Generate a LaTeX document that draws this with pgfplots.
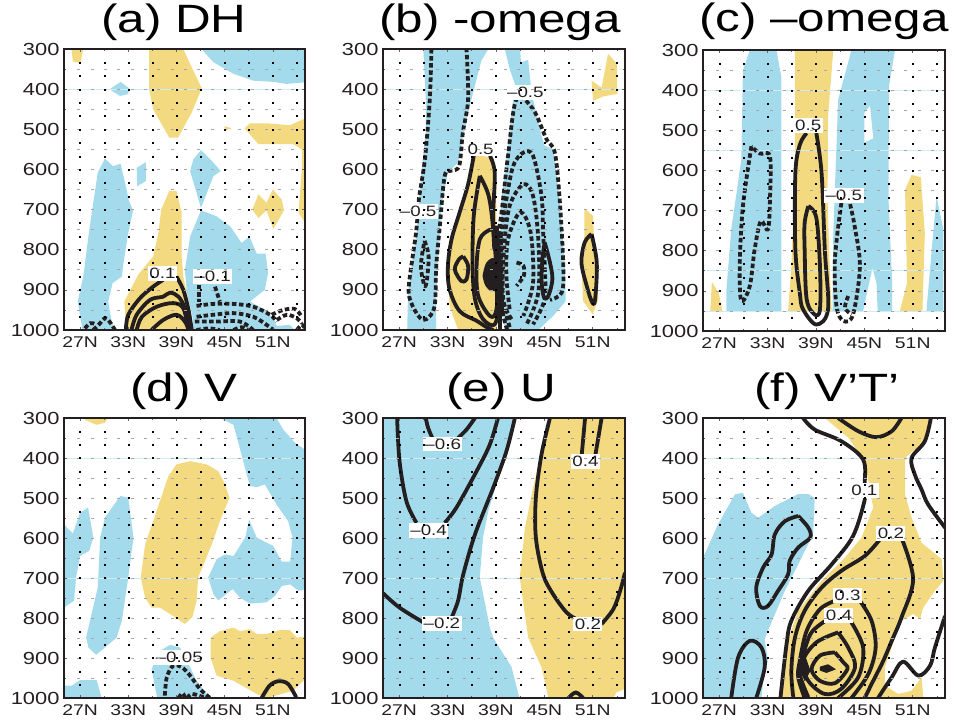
\documentclass[border=0pt]{standalone}
\usepackage{pgfplots}
\pgfplotsset{compat=1.18}
\usepackage{fontspec}
\setmainfont[FakeStretch=1.25]{Liberation Sans}
\definecolor{blu}{HTML}{A3DBEC}
\definecolor{yel}{HTML}{F3D97F}
\definecolor{dk}{HTML}{231F20}
\definecolor{hlc}{HTML}{CDEEF7}
\newcommand\rowA[1]{(27,#1)(30,#1)(33,#1)(36,#1)(39,#1)(42,#1)(45,#1)(48,#1)(51,#1)(54,#1)}
\newcommand\rowB[1]{(26.85,#1)(28.5,#1)(30.15,#1)(31.8,#1)(33.5,#1)(35.15,#1)(36.8,#1)(38.5,#1)(40.15,#1)(41.8,#1)(43.5,#1)(45.15,#1)(46.8,#1)(48.5,#1)(50.15,#1)(51.8,#1)(53.5,#1)}
\edef\gridA{\rowA{333}\rowA{367}\rowA{400}\rowA{433}\rowA{467}\rowA{500}\rowA{533}\rowA{567}\rowA{600}\rowA{633}\rowA{667}\rowA{700}\rowA{733}\rowA{767}\rowA{800}\rowA{833}\rowA{867}\rowA{900}\rowA{933}\rowA{967}}
\edef\gridB{\rowB{350}\rowB{400}\rowB{450}\rowB{500}\rowB{550}\rowB{600}\rowB{650}\rowB{700}\rowB{750}\rowB{800}\rowB{850}\rowB{900}\rowB{950}}
\newcommand\griddots{%
  \edef\tmpa{\noexpand\addplot[grayd] coordinates {\gridB};\noexpand\addplot[blackd] coordinates {\gridA};}\tmpa}
\pgfplotsset{
  grayd/.style={only marks,mark=-,mark size=1.5pt,mark options={line width=0.7pt,draw=black!35,fill=black!35}},
  blackd/.style={only marks,mark=square*,mark size=0.5pt,mark options={draw=black,fill=black,line width=0.2pt}},
  bf/.style={draw=none,fill=blu},
  yf/.style={draw=none,fill=yel},
  con/.style={line width=3.8pt,color=dk,smooth,tension=0.55,line join=round,line cap=butt},
  dsh/.style={con,dash pattern=on 4.5pt off 2.6pt},
  hln/.style={line width=0.6pt,draw=hlc},
  pan/.style={
    scale only axis,anchor=south west,
    xmin=25,xmax=55,ymin=300,ymax=1000,y dir=reverse,
    xtick={27,33,39,45,51},xticklabels={27N,33N,39N,45N,51N},
    minor xtick={30,36,42,48,54},
    ytick={300,400,500,600,700,800,900,1000},
    yticklabels={300,400,500,600,700,800,900,1000},
    minor ytick={350,450,550,650,750,850,950},
    tick align=inside,major tick length=3pt,minor tick length=2pt,
    tick style={color=black!60,line width=0.7pt},
    axis line style={line width=2.4pt,color=dk},
    axis on top,
    xticklabel style={font=\fontsize{15.5}{16}\selectfont,text=dk,yshift=-3pt},
    yticklabel style={font=\fontsize{17.5}{18}\selectfont,text=dk,xshift=-1pt},
    title style={anchor=base,inner sep=0pt,font=\fontsize{39.5}{40}\selectfont,text=black},
  },
}
\newcommand\lab[3]{\node[fill=white,draw=none,inner xsep=1.5pt,inner ysep=2pt,font=\fontsize{15}{15}\selectfont,text=dk] at (axis cs:#1,#2) {#3};}
\begin{document}
\begin{tikzpicture}
\path[use as bounding box] (0pt,0pt) rectangle (955pt,722pt);
% (a)
\begin{axis}[pan,at={(64pt,392pt)},width=241pt,height=281pt,title={(a) DH},title style={at={(axis description cs:0.456,1.039)}}]
\addplot[bf] coordinates {(30.85,398)(32.05,382)(33.13,398)(33,412)(31.97,417)(30.93,404)};
\addplot[bf] coordinates {(42.1,300)(43.6,333)(46.1,362)(48.6,379)(51.1,382)(52.7,387)(55,383)(55,300)};
\addplot[bf] coordinates {(30.1,573)(31.1,592)(32.05,586)(32.6,633)(33.1,679)(33.6,702)(33,758)(32.4,833)(32.2,867)(31.05,883)(30.5,929)(30.9,975)(31.3,1000)(27.3,1000)(26.7,929)(27.4,867)(28.15,750)(29.2,608)};
\addplot[bf] coordinates {(34.05,596)(35.2,582)(35.2,629)(34.1,642)};
\addplot[bf] coordinates {(42.05,552)(43.6,583)(44.5,604)(43.6,617)(42.05,696)(40.7,604)(41.1,575)};
\addplot[bf] coordinates {(42.05,702)(44,717)(45.7,742)(47.1,783)(48.1,768)(49,810)(50.1,810)(50.4,858)(50,900)(48.15,929)(50,950)(51.05,971)(51.5,990)(53.1,987)(53.75,1000)(41.1,1000)(41,967)(40.3,908)(40.05,850)(40.7,767)};
\addplot[yf] coordinates {(25.95,300)(27.4,300)(27.05,335)(26.1,331)};
\addplot[yf] coordinates {(35.6,300)(39.85,300)(40.9,346)(42.15,398)(40.9,458)(39.2,521)(38.1,521)(36.1,450)(35.6,400)};
\addplot[yf] coordinates {(45,492)(45.9,498)(45,502)};
\addplot[yf] coordinates {(47.5,498)(48.15,485)(50.2,485)(53.1,490)(55,473)(55,733)(54.2,708)(54.6,600)(54.6,550)(53.55,537)(51.05,537)(49.2,537)};
\addplot[yf] coordinates {(49.2,662)(50.2,683)(51,650)(52.1,675)(52.4,702)(51.05,748)(50.2,702)(49.2,721)(48.45,700)};
\addplot[yf] coordinates {(38.1,654)(39,654)(39.65,708)(39.65,817)(39.85,867)(40.9,967)(41,1000)(32.8,1000)(32.5,929)(34.25,862)(36.1,817)(36.75,758)(37.1,700)};
\addplot[hln] coordinates {(25,400)(55,400)};
\griddots
\addplot[con] coordinates {(32.7,1000)(33,962)(34.45,921)(36.1,892)(37.35,875)};
\addplot[con] coordinates {(39,867)(39.85,900)(40.5,950)(40.9,1000)};
\addplot[con] coordinates {(33.4,1000)(34.05,962)(35.7,925)(37.35,917)(38.2,907)(39.25,917)(40.05,946)(40.7,1000)};
\addplot[con] coordinates {(34.05,1000)(34.7,967)(36.55,942)(38.6,933)(39.85,946)(40.5,1000)};
\addplot[con] coordinates {(35.9,1000)(37.35,975)(39,962)(40.05,979)(40.5,1000)};
\addplot[dsh] coordinates {(27.6,996)(28.25,983)(28.85,985)};
\addplot[dsh] coordinates {(28.65,1000)(29.5,983)(30.1,970)(30.7,980)(31.35,1000)};
\addplot[dsh] coordinates {(41.85,887)(41.85,929)};
\addplot[dsh] coordinates {(41.5,940)(43.6,935)(46.1,935)(48.55,942)(50.65,962)(51.5,979)};
\addplot[dsh] coordinates {(43.8,892)(44.4,929)};
\addplot[dsh] coordinates {(41.5,967)(43.6,962)(46.1,958)(48.55,967)(50.2,987)(51.05,1000)};
\addplot[dsh] coordinates {(41.3,979)(44,979)(46.9,979)(48.55,1000)};
\addplot[dsh] coordinates {(41.5,1000)(43,996)(44.4,1000)};
\addplot[dsh] coordinates {(46.1,1000)(47.1,993)(47.95,1000)};
\addplot[dsh] coordinates {(50.85,962)(52.3,950)(53.75,948)(54.6,967)};
\addplot[dsh] coordinates {(51.5,975)(52.75,962)(54,971)(54.6,983)};
\addplot[dsh] coordinates {(54,1000)(54.6,987)(55,996)};
\lab{37.25}{860}{0.1}
\lab{43.5}{867}{–0.1}
\end{axis}
% (b)
\begin{axis}[pan,at={(383pt,392pt)},width=242pt,height=281pt,title={(b) -omega},title style={at={(axis description cs:0.483,1.039)}}]
\addplot[bf] coordinates {(30,300)(38.05,300)(37.2,329)(36.6,375)(35.55,458)(34.3,583)(33.05,608)(32.25,691)(31.8,840)(31.6,923)(31.6,1000)(28,1000)(28.1,907)(29.15,757)(29.75,608)(30.3,508)(30.3,425)};
\addplot[bf] coordinates {(40.1,300)(42,300)(42.1,333)(43,327)(43.3,387)(43.6,425)(44.65,516)(45.05,541)(46.1,549)(46.9,674)(47.55,840)(47.65,928)(46.1,965)(44.25,1000)(40.1,1000)(39.7,923)(39.4,799)(39.7,674)(40.9,466)(41.35,387)(40.7,350)};
\addplot[yf] coordinates {(36.15,566)(37.4,566)(38.65,574)(39.05,608)(39.05,799)(39.3,965)(39.05,1000)(34.3,1000)(33.25,940)(33.05,840)(33.7,766)(34.95,682)(35.55,641)};
\addplot[yf] coordinates {(52.9,312)(54,337)(54.05,412)(52.3,418)(51.05,429)(50.85,379)(52.1,396)};
\addplot[yf] coordinates {(49.95,697)(51.05,716)(51.15,774)(51.7,923)(51,961)(49.8,928)(49.6,840)(49.95,766)};
\addplot[hln] coordinates {(25,400)(55,400)};
\griddots
\addplot[dsh] coordinates {(31,300)(30.8,425)(30.2,574)(29.45,674)(29.1,757)(28.2,890)(28.5,932)(29.55,969)(30.4,973)(31.4,940)(31.6,840)(32.05,741)(32.65,616)(33.5,603)(34.45,591)(34.9,508)(35.55,425)(35.35,300)};
\addplot[dsh] coordinates {(30.15,778)(30.65,815)(30.45,874)(30.15,890)(29.7,840)(30.15,778)};
\addplot[dsh] coordinates {(39.9,956)(39.05,899)(39.05,800)(39.7,707)(40.5,566)(41.55,425)(43.6,450)(45.25,524)(46.3,558)(46.9,674)(47.35,840)(47.15,907)(45.7,925)};
\addplot[dsh] coordinates {(40.7,993)(39.5,882)(39.7,757)(40.3,674)(41.15,591)(42.4,558)(43.6,566)(44.65,666)(44.85,757)(45.05,840)(45.05,923)(43.6,986)};
\addplot[dsh] coordinates {(40.95,973)(39.9,923)(40,799)(40.7,691)(42.4,637)(43.6,666)(44.25,774)(44.25,907)(42.8,986)};
\addplot[dsh] coordinates {(40.7,948)(40.3,865)(40.5,774)(42,707)(43.3,757)(43.6,882)(42.4,965)};
\addplot[dsh] coordinates {(41.55,832)(42.4,840)(42.45,865)(41.55,890)};
\addplot[dsh] coordinates {(39.6,760)(39.7,860)(39.8,950)(40.4,1000)};
\addplot[con] coordinates {(36.25,566)(35.55,637)(34.5,707)(33.5,774)(33.05,840)(33.25,899)(34.5,953)(36.6,977)(37.85,993)(38.65,1000)};
\addplot[con] coordinates {(38.25,566)(38.85,608)(38.65,716)(38.8,800)};
\addplot[con] coordinates {(37,616)(36.25,716)(36.1,840)(36.4,923)(37.4,973)(38.85,986)(39.3,923)(38.7,757)(38.1,666)(37,616)};
\addplot[con] coordinates {(38,753)(37,774)(36.6,840)(36.8,915)(38.25,965)(39.05,950)(39.5,840)(38.85,757)(38,753)};
\addplot[con] coordinates {(34.95,817)(35.55,840)(35.35,874)(34.7,878)(33.9,849)(34.45,823)(34.95,817)};
\addplot[draw=dk,fill=dk,line width=1pt,smooth] coordinates {(37.4,865)(37.8,835)(38.6,822)(39.4,835)(39.5,870)(39.3,895)(38.4,902)(37.7,887)(37.4,865)};
\addplot[con,line width=5pt] coordinates {(39.05,740)(39.2,840)(39.2,960)};
\addplot[con] coordinates {(39.5,840)(39.5,1000)};
\addplot[con] coordinates {(45.05,782)(45.7,832)(46,874)(45.5,915)(44.95,919)(44.65,874)(44.8,815)(45.05,782)};
\addplot[con] coordinates {(50.85,761)(51.5,832)(51.3,923)(50.95,932)(50.25,890)(49.6,832)(50,782)(50.85,761)};
\lab{37.1}{549}{0.5}
\lab{29.35}{705}{–0.5}
\lab{42.65}{408}{–0.5}
\end{axis}
% (c)
\begin{axis}[pan,at={(703pt,391pt)},width=242pt,height=281pt,title={(c) –omega},title style={at={(axis description cs:0.5,1.043)}}]
\addplot[bf] coordinates {(30.8,300)(34.1,300)(34.7,366)(34.7,950)(27.9,950)(27.9,897)(28.5,747)(29.75,573)(29.95,350)};
\addplot[bf] coordinates {(43.4,300)(48.8,300)(48.05,391)(48,673)(48.45,880)(48.45,950)(46.65,950)(46.5,880)(46,843)(44.85,950)(41.05,950)(41.15,756)(41.75,424)};
\addplot[draw=none,fill=white] coordinates {(45,457)(45.7,439)(46.1,520)(45,530)};
\addplot[bf] coordinates {(53.95,665)(54.8,747)(54.8,950)(52.7,950)(53.35,797)};
\addplot[yf] coordinates {(36.4,300)(41.15,300)(40.5,466)(40.45,673)(40.7,839)(40.95,950)(35.55,950)(35.95,839)(36.4,590)};
\addplot[yf] coordinates {(26.1,878)(26.95,905)(27.4,950)(25.9,950)};
\addplot[yf] coordinates {(50.05,648)(50.85,611)(52,617)(52.5,756)(52.2,950)(49.4,950)(50.3,880)};
\addplot[hln] coordinates {(25,400)(55,400)};
\addplot[hln] coordinates {(25,550)(55,550)};
\addplot[hln] coordinates {(25,850)(55,850)};
\addplot[hln] coordinates {(25,950)(55,950)};
\griddots
\addplot[con] coordinates {(37.85,507)(37,536)(36.45,607)(36.45,797)(37,905)(37.4,946)(39.05,984)(40.5,946)(40.1,797)(39.7,607)(39.05,507)};
\addplot[con] coordinates {(38.05,689)(39.05,718)(39.5,839)(39.5,946)(38.85,959)(37.85,921)(37.6,797)(37.6,731)(38.05,689)};
\addplot[dsh] coordinates {(31,540)(29.95,689)(29.55,839)(29.75,925)(30.8,888)(31.4,797)(32.15,727)(33.05,747)(33.3,673)(33.3,565)(32.05,558)(31,540)};
\addplot[dsh] coordinates {(42.15,681)(41.35,822)(41.55,938)(42.4,975)(43.6,959)(44.45,839)(43.8,739)(43.2,681)};
\addplot[dsh] coordinates {(43,913)(42.6,942)(43.4,959)};
\lab{38.05}{488}{0.5}
\lab{42.45}{662}{–0.5}
\end{axis}
% (d)
\begin{axis}[pan,at={(64pt,24pt)},width=241pt,height=280pt,title={(d) V},title style={at={(axis description cs:0.498,1.039)}}]
\addplot[yf] coordinates {(27.2,300)(30.5,300)(30.1,312)(29.05,317)(28,308)};
\addplot[yf] coordinates {(38,445)(39,416)(40.7,408)(42.75,416)(44.2,433)(45.05,466)(45.6,500)(44.4,558)(43.4,616)(41.7,699)(41.5,757)(41,797)(40.05,815)(38.2,790)(36.95,774)(35.9,774)(35.1,749)(34.55,699)(35.1,616)(36.1,558)};
\addplot[yf] coordinates {(43.25,849)(44.4,833)(46.1,824)(46.9,833)(48.15,828)(49,840)(50.2,840)(51.9,830)(53.1,830)(54,849)(55,847)(55,953)(53.55,982)(50.2,1000)(49,990)(46.1,957)(44,944)(43.25,900)};
\addplot[bf] coordinates {(44.4,300)(51.45,300)(52.3,329)(53.75,362)(55,379)(55,728)(54.2,732)(53.15,716)(52.1,720)(51.25,745)(50.2,761)(48.15,764)(46.9,749)(46,728)(44.2,756)(43.6,741)(42.95,699)(44,653)(45.05,641)(46.1,645)(47.55,599)(48.05,554)(49,599)(51.05,620)(52.1,659)(53.15,659)(53.45,599)(52.9,558)(51.45,516)(50,466)(49,473)(48.15,470)(47.75,441)(46.1,317)};
\addplot[bf] coordinates {(25,566)(26.1,589)(27,537)(28,524)(28.65,599)(28.15,632)(27,645)(26.5,699)(26.25,757)(25,774)};
\addplot[bf] coordinates {(32,495)(30.1,549)(29.5,599)(29.2,724)(27.75,849)(28.05,874)(29,892)(31.55,849)(32.2,807)(33,699)(33.65,599)(33,499)};
\addplot[bf] coordinates {(25,969)(26,969)(27,955)(29.05,955)(29.7,1000)(25,1000)};
\addplot[bf] coordinates {(35.9,928)(36.95,882)(38.2,867)(39.45,874)(40.5,915)(41.5,957)(43.2,1000)(36.6,1000)};
\addplot[hln] coordinates {(25,400)(55,400)};
\addplot[hln] coordinates {(25,700)(55,700)};
\griddots
\addplot[dsh] coordinates {(37.55,994)(37.8,948)(38.6,919)(39.65,923)(40.7,944)(41.95,978)(43.2,1000)};
\addplot[dsh] coordinates {(39.25,1000)(39.75,988)(40.05,1000)};
\addplot[dsh] coordinates {(40.3,1000)(41,990)(42.6,1000)};
\addplot[con] coordinates {(49.6,1000)(50.6,969)(51.7,958)(52.9,965)(53.95,1000)};
\lab{39.35}{898}{–0.05}
\end{axis}
% (e)
\begin{axis}[pan,at={(383pt,24pt)},width=242pt,height=280pt,title={(e) U},title style={at={(axis description cs:0.488,1.039)}}]
\addplot[bf] coordinates {(25,300)(41.55,300)(40.7,358)(39.05,466)(38.05,533)(37.4,599)(37,699)(38.25,824)(38.65,849)(40.95,923)(41.9,1000)(25,1000)};
\addplot[yf] coordinates {(45.7,300)(55,300)(55,977)(53.95,986)(53.55,1000)(45.5,1000)(44.65,923)(43,849)(41.95,699)(42.6,574)(43.6,475)};
\addplot[hln] coordinates {(25,400)(55,400)};
\addplot[hln] coordinates {(25,700)(55,700)};
\griddots
\addplot[con] coordinates {(30.3,300)(30.6,325)(31.2,354)};
\addplot[con] coordinates {(34.3,350)(35.35,329)(36.4,300)};
\addplot[con] coordinates {(26.75,300)(27.05,408)(27.9,508)(29.15,562)};
\addplot[con] coordinates {(32.65,562)(34.1,524)(36.6,433)(38.25,366)(39.25,300)};
\addplot[con] coordinates {(25,738)(27.05,774)(30,811)};
\addplot[con] coordinates {(33.5,799)(34.3,757)(34.95,691)(36.4,591)(38.65,475)(40.3,383)(41.35,300)};
\addplot[con] coordinates {(45.7,300)(44.65,391)(43.95,499)(43.95,599)(44.85,691)(46.1,741)(47.75,786)(49,803)};
\addplot[con] coordinates {(52.1,815)(53.55,778)(54.4,732)(55,687)};
\addplot[con] coordinates {(50.05,300)(49.6,400)};
\addplot[con] coordinates {(52.1,300)(51.3,396)};
\addplot[con] coordinates {(48,1000)(48.9,986)(49.8,1000)};
\lab{32.4}{365}{–0.6}
\lab{30.65}{581}{–0.4}
\lab{32.3}{814}{–0.2}
\lab{50.1}{409}{0.4}
\lab{50.4}{815}{0.2}
\end{axis}
% (f)
\begin{axis}[pan,at={(703pt,24pt)},width=242pt,height=280pt,title={(f) V’T’},title style={at={(axis description cs:0.512,1.039)}}]
\addplot[yf] coordinates {(40.1,300)(53.35,300)(52.5,358)(50.25,396)(50.05,408)(50.05,491)(50.85,549)(52.1,612)(54.6,653)(54.8,707)(53.75,732)(52.3,774)(51.9,803)(51.05,790)(49.6,807)(48.8,849)(47.55,923)(47.55,969)(49.2,990)(50.85,982)(52.1,948)(52.3,1000)(34.7,1000)(35.35,866)(36.8,782)(39.7,707)(42.6,649)(44.65,599)(46.1,524)(45.05,408)(43,349)};
\addplot[bf] coordinates {(25.2,641)(26.85,566)(28.95,491)(29.95,487)(31,537)(31.85,549)(33.9,520)(36.8,490)(38.05,490)(38.85,500)(38.65,591)(36.8,666)(35.15,732)(33.05,832)(32.65,853)(33.05,907)(32.45,957)(32.25,1000)(25,1000)(25,640)};
\addplot[hln] coordinates {(25,400)(55,400)};
\addplot[hln] coordinates {(25,700)(55,700)};
\griddots
\addplot[con] coordinates {(37.4,300)(38.85,329)(42.15,358)(44.85,404)(45.05,466)(45.05,504)(43.6,595)(40.95,666)(38.05,732)(35.95,807)(35.35,866)(34.6,1000)};
\addplot[con] coordinates {(41.75,300)(44.25,333)(46.5,348)(48.4,333)(49.6,300)};
\addplot[con] coordinates {(53.25,300)(52.5,358)(50.85,400)(51.25,441)(52.1,479)(52.9,516)(55,574)};
\addplot[con] coordinates {(46.95,603)(45.05,645)(42.15,682)(39.7,724)(37.6,782)(36.4,849)(35.95,932)(36.2,1000)};
\addplot[con] coordinates {(49.6,599)(51.05,703)(49.6,799)(48.4,857)(47.35,907)(45.9,965)(45.05,1000)};
\addplot[con] coordinates {(46.7,1000)(48.4,948)(49.8,909)(51.7,944)(53.15,919)(53.75,874)(55,795)};
\addplot[con] coordinates {(41.35,757)(39.5,778)(37.85,832)(37,907)(36.8,948)(37.6,1000)};
\addplot[con] coordinates {(44.45,757)(45.9,807)(46.4,874)(45.5,940)(43.4,1000)};
\addplot[con] coordinates {(40.5,803)(38.45,836)(37.4,894)(37,940)(38.05,998)};
\addplot[con] coordinates {(43.4,811)(44.85,874)(44.25,948)(41.75,1000)};
\addplot[con] coordinates {(41.75,836)(43,874)(43.85,923)(42.15,977)(40.1,990)(38.05,957)(37.4,907)(39.05,861)(41.75,836)};
\addplot[con] coordinates {(41.35,886)(42.4,911)(42.9,928)(41.35,963)(39.5,957)(38.45,928)(39.5,894)(41.35,886)};
\addplot[draw=dk,fill=dk,line width=1pt] coordinates {(39.5,923)(40.5,917)(41.35,928)(40.3,936)(39.5,930)};
\addplot[draw=dk,fill=dk,line width=1pt] coordinates {(37,932)(37.6,894)(38.25,932)(37.6,957)};
\addplot[con] coordinates {(36.8,545)(38.05,574)(38.3,599)(36.8,624)(35.75,657)(35.55,691)(34.3,732)(33.05,770)(32.05,770)(31.6,724)(32.45,674)(33.5,641)(33.9,591)(35.15,558)(36.8,545)};
\addplot[con] coordinates {(28.5,1000)(29.35,899)(30.8,857)(32.25,874)(32.65,923)(31.6,1000)};
\lab{45}{482}{0.1}
\lab{48.3}{589}{0.2}
\lab{42.9}{744}{0.3}
\lab{41.85}{793}{0.4}
\end{axis}
\end{tikzpicture}
\end{document}
